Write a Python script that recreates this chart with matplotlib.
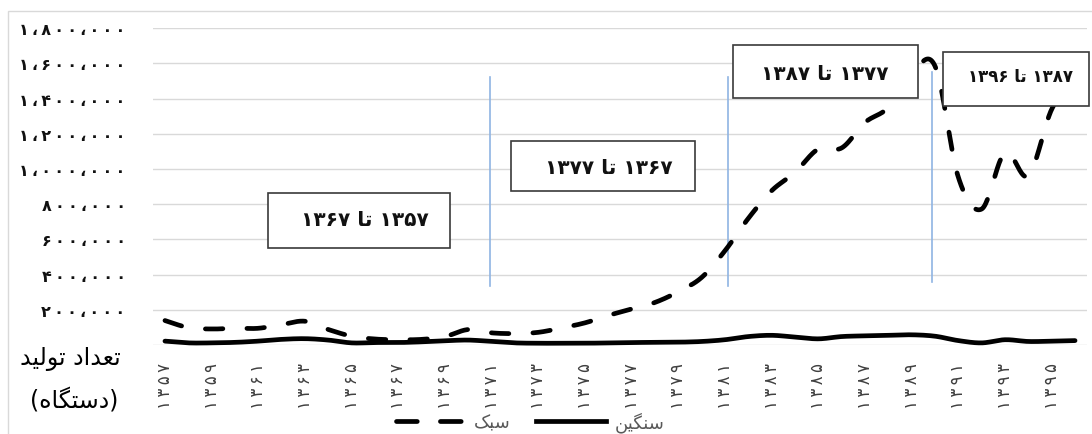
import numpy as np
import matplotlib
matplotlib.use("Agg")
import matplotlib.pyplot as plt
from matplotlib.patches import Rectangle
from matplotlib.lines import Line2D

# ---------------- data ----------------
years = list(range(1357, 1397))
light = [139, 99, 91, 95, 95, 116, 135, 88, 50, 34,
         30, 32, 48, 88, 69, 65, 72, 97, 126, 168,
         205, 242, 303, 384, 536, 720, 877, 981, 1114, 1120,
         1265, 1350, 1540, 1585, 953, 773, 1095, 962, 1340, 1520]   # thousand units
heavy = [22, 12, 12, 15, 22, 32, 36, 28, 12, 14,
         14, 18, 24, 28, 20, 12, 10, 10, 10, 12,
         14, 15, 16, 20, 30, 48, 55, 45, 35, 48,
         52, 55, 58, 50, 25, 12, 30, 20, 22, 25]                   # thousand units
series_names = ["سبک", "سنگین"]
x_tick_years = list(range(1357, 1396, 2))
y_ticks = [0, 200000, 400000, 600000, 800000, 1000000, 1200000, 1400000, 1600000, 1800000]
period_labels = ["۱۳۵۷ تا ۱۳۶۷", "۱۳۶۷ تا ۱۳۷۷", "۱۳۷۷ تا ۱۳۸۷", "۱۳۸۷ تا ۱۳۹۶"]
y_title = ["تعداد تولید", "(دستگاه)"]

# ---------------- helpers ----------------
FORMS = {
    '\u0627': ('\uFE8D', '\uFE8E', None, None),
    '\u0628': ('\uFE8F', '\uFE90', '\uFE91', '\uFE92'),
    '\u062A': ('\uFE95', '\uFE96', '\uFE97', '\uFE98'),
    '\u062F': ('\uFEA9', '\uFEAA', None, None),
    '\u0633': ('\uFEB1', '\uFEB2', '\uFEB3', '\uFEB4'),
    '\u0639': ('\uFEC9', '\uFECA', '\uFECB', '\uFECC'),
    '\u0644': ('\uFEDD', '\uFEDE', '\uFEDF', '\uFEE0'),
    '\u0646': ('\uFEE5', '\uFEE6', '\uFEE7', '\uFEE8'),
    '\u0647': ('\uFEE9', '\uFEEA', '\uFEEB', '\uFEEC'),
    '\u0648': ('\uFEED', '\uFEEE', None, None),
    '\u06CC': ('\uFBFC', '\uFBFD', '\uFBFE', '\uFBFF'),
    '\u06A9': ('\uFB8E', '\uFB8F', '\uFB90', '\uFB91'),
    '\u06AF': ('\uFB92', '\uFB93', '\uFB94', '\uFB95'),
}


def shape_word(w):
    out = []
    for i, c in enumerate(w):
        if c not in FORMS:
            out.append(c)
            continue
        prev = w[i - 1] if i > 0 else None
        nxt = w[i + 1] if i + 1 < len(w) else None
        jp = prev in FORMS and FORMS[prev][2] is not None
        jn = nxt in FORMS and FORMS[c][2] is not None
        iso, fin, ini, med = FORMS[c]
        if jp and jn:
            out.append(med)
        elif jp:
            out.append(fin)
        elif jn:
            out.append(ini)
        else:
            out.append(iso)
    return ''.join(out)


def rtl(text):
    """logical Persian text -> visual order with presentation forms"""
    tokens = []
    cur = ''
    kind = None
    for ch in text:
        k = 'a' if ch in FORMS else ('d' if '\u06F0' <= ch <= '\u06F9' or ch.isdigit() else 'o')
        if k == kind and k != 'o':
            cur += ch
        else:
            if cur:
                tokens.append((kind, cur))
            cur, kind = ch, k
    if cur:
        tokens.append((kind, cur))
    mirror = {'(': ')', ')': '('}
    vis = []
    for k, t in reversed(tokens):
        if k == 'a':
            vis.append(shape_word(t)[::-1])
        elif k == 'o':
            vis.append(''.join(mirror.get(c, c) for c in t))
        else:
            vis.append(t)
    return ''.join(vis)


def fa(s):
    return s.translate(str.maketrans('0123456789', '۰۱۲۳۴۵۶۷۸۹'))


def spaced(s):
    return '\u2009'.join(s)


def smooth(x, y, n=24):
    x = np.asarray(x, float)
    y = np.asarray(y, float)
    N = len(x)
    xs, ys = [], []
    for i in range(N - 1):
        p0 = i - 1 if i > 0 else i
        p3 = i + 2 if i + 2 < N else i + 1
        b0 = np.array([x[i], y[i]])
        b3 = np.array([x[i + 1], y[i + 1]])
        b1 = b0 + (np.array([x[i + 1], y[i + 1]]) - np.array([x[p0], y[p0]])) / 6
        b2 = b3 - (np.array([x[p3], y[p3]]) - np.array([x[i], y[i]])) / 6
        t = np.linspace(0, 1, n, endpoint=(i == N - 2))[:, None]
        pts = ((1 - t) ** 3) * b0 + 3 * ((1 - t) ** 2) * t * b1 + 3 * (1 - t) * t ** 2 * b2 + t ** 3 * b3
        xs.extend(pts[:, 0])
        ys.extend(pts[:, 1])
    return np.array(xs), np.array(ys)


# ---------------- figure ----------------
plt.rcParams['font.family'] = ['DejaVu Sans']
W, H = 1092, 435
fig = plt.figure(figsize=(W / 100, H / 100), dpi=100)


def fx(px):
    return px / W


def fy(py):
    return 1 - py / H


ax_l, ax_r, ax_t, ax_b = 153.3, 1086.7, 29.3, 346.0
ax = fig.add_axes([fx(ax_l), fy(ax_b), fx(ax_r - ax_l), (ax_b - ax_t) / H])

# chart-area border
fig.add_artist(Rectangle((fx(7.5), fy(460)), fx(1200), (460 - 11.7) / H,
                         transform=fig.transFigure, fill=False,
                         edgecolor='#D9D9D9', lw=1.0, zorder=0))

yrs = np.array(years)
lv = np.array(light) * 1000
hv = np.array(heavy) * 1000

lw = 3.4
xs, ys = smooth(yrs, lv)
ax.plot(xs, ys, color='black', lw=lw, linestyle=(0, (3.7, 5.1)),
        dash_capstyle='round', solid_capstyle='round', clip_on=False, zorder=3)
xs, ys = smooth(yrs, hv)
ax.plot(xs, ys, color='black', lw=lw, solid_capstyle='round',
        solid_joinstyle='round', clip_on=False, zorder=3)

ax.set_xlim(1356.5, 1396.5)
ax.set_ylim(0, 1800000)
ax.set_yticks(y_ticks)
ax.set_yticklabels(['' if v == 0 else spaced(fa(f"{v:,}".replace(',', '،'))) for v in y_ticks],
                   fontsize=11.5, fontweight='bold', color='#111111')
ax.set_xticks(x_tick_years)
ax.set_xticklabels([spaced(fa(str(y))) for y in x_tick_years], rotation=90,
                   fontsize=12, color='#404040')
ax.tick_params(axis='both', length=0)
ax.tick_params(axis='y', pad=20)
ax.tick_params(axis='x', pad=12)
for s in ax.spines.values():
    s.set_visible(False)
ax.grid(axis='y', color='#D9D9D9', lw=1.0)
ax.set_axisbelow(True)

# vertical period separators (data coordinates)
sep_x = [1370.93, 1381.13, 1389.88]
sep_y = [(335000, 1523000), (335000, 1523000), (358000, 1551000)]
for x0, (y0, y1) in zip(sep_x, sep_y):
    ax.plot([x0, x0], [y0, y1], color='#8FB4E3', lw=1.2, zorder=2)

# period boxes (pixel layout)
boxes = [((268, 194, 450, 249), (365, 221), 14.5),
         ((511, 142, 695, 192), (609, 169), 14.5),
         ((733, 46, 918, 99), (825, 74), 14.5),
         ((943, 53, 1089, 107), (1021, 77), 12)]
for i, ((x0, y0, x1, y1), (cx, cy), fs) in enumerate(boxes):
    fig.add_artist(Rectangle((fx(x0), fy(y1)), fx(x1 - x0), (y1 - y0) / H,
                             transform=fig.transFigure, facecolor='white',
                             edgecolor='#3A3A3A', lw=1.2, zorder=10))
    fig.text(fx(cx), fy(cy), rtl(period_labels[i]), ha='center', va='center',
             fontsize=fs, fontweight='bold', color='#111111', zorder=11)

# y-axis title
fig.text(fx(70), fy(359), rtl(y_title[0]), ha='center', va='center', fontsize=17, color='black')
fig.text(fx(74), fy(400), rtl(y_title[1]), ha='center', va='center', fontsize=17, color='black')

# legend
h1 = Line2D([], [], color='black', lw=lw, linestyle=(0, (4.4, 4.9)), dash_capstyle='round')
h2 = Line2D([], [], color='black', lw=lw)
fig.legend([h1, h2], [rtl(series_names[0]), rtl(series_names[1])], loc='center',
           bbox_to_anchor=(fx(530), fy(423)), ncol=2, frameon=False, fontsize=13,
           handlelength=3.9, handletextpad=0.45, columnspacing=1.4, labelcolor='#595959',
           borderpad=0, borderaxespad=0)

fig.savefig('out.png', dpi=100)
